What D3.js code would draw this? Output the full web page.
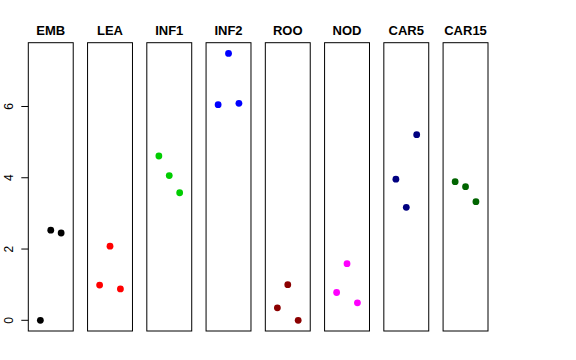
<!DOCTYPE html>
<html><head><meta charset="utf-8">
<script src="https://cdn.jsdelivr.net/npm/d3@7"></script>
<style>body{margin:0;background:#fff}svg{display:block}</style>
</head><body>
<script>
const categories = ["EMB","LEA","INF1","INF2","ROO","NOD","CAR5","CAR15"];
const colors = ["#000000","#ff0000","#00cd00","#0000ff","#8b0000","#ff00ff","#000080","#006400"];
const replicateX = [1,2,3];
const values = [
  [0.00, 2.53, 2.45],
  [0.99, 2.08, 0.88],
  [4.61, 4.06, 3.58],
  [6.05, 7.49, 6.09],
  [0.35, 1.00, 0.00],
  [0.78, 1.59, 0.49],
  [3.96, 3.17, 5.21],
  [3.89, 3.75, 3.33]
];
const yTicks = [0,2,4,6];

const W=576,H=360;
const svg=d3.select("body").append("svg").attr("width",W).attr("height",H);
const band=d3.scaleBand().domain(categories).range([28.3,488]).paddingInner(0.242).paddingOuter(0);
const y=d3.scaleLinear().domain([-0.3,7.79]).range([331,42.7]);
const font="Liberation Sans, Arial, Helvetica, sans-serif";

categories.forEach((c,i)=>{
  const x0=band(c), bw=band.bandwidth();
  const x=d3.scaleLinear().domain([-0.16,4.16]).range([x0,x0+bw]);
  const g=svg.append("g");
  g.append("rect").attr("x",x0).attr("y",y.range()[1]).attr("width",bw)
    .attr("height",y.range()[0]-y.range()[1]).attr("fill","none").attr("stroke","#000").attr("stroke-width",1);
  g.append("text").attr("x",x0+bw/2).attr("y",34.5).attr("text-anchor","middle")
    .attr("font-family",font).attr("font-weight","bold").attr("font-size",13).text(c);
  g.selectAll("circle").data(values[i]).join("circle")
    .attr("cx",(d,j)=>x(replicateX[j])).attr("cy",d=>y(d)).attr("r",3.4).attr("fill",colors[i]);
});

const ax=svg.append("g").attr("transform",`translate(${band(categories[0])},0)`)
  .call(d3.axisLeft(y).tickValues(yTicks).tickSize(7).tickPadding(4).tickFormat(d3.format("d")));
ax.select(".domain").remove();
ax.selectAll("text").attr("font-family",font).attr("font-size",12).attr("fill","#000")
  .attr("text-anchor","middle").attr("dy",null).attr("dominant-baseline","auto")
  .attr("transform",function(d){return `translate(${-15},${y(d)}) rotate(-90)`;})
  .attr("x",0).attr("y",0);
ax.selectAll(".tick").attr("transform",null);
ax.selectAll(".tick line").attr("y1",d=>y(d)).attr("y2",d=>y(d)).attr("stroke","#000");
</script>
</body></html>
